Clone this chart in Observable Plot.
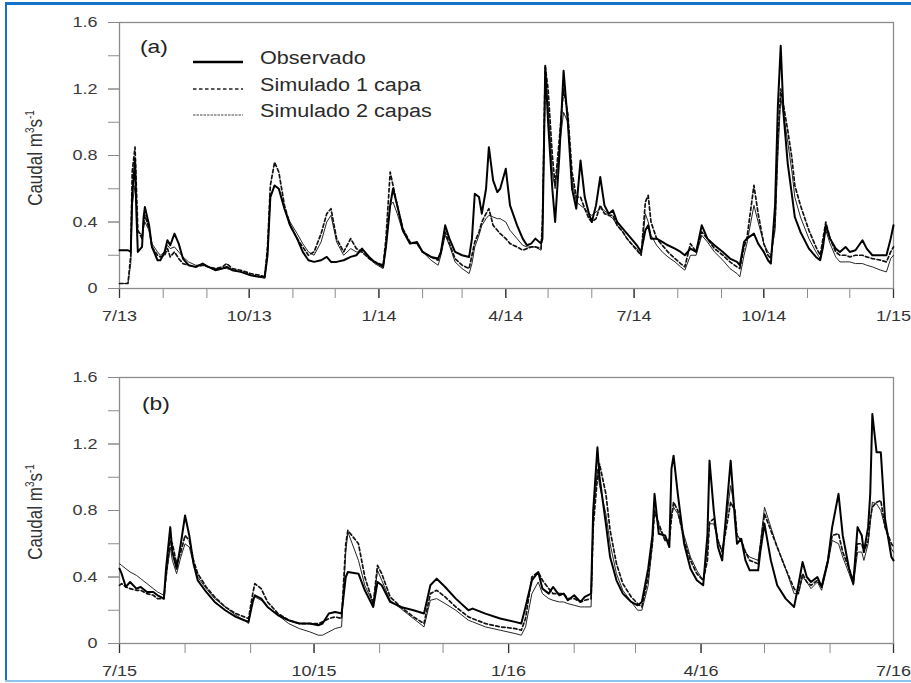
<!DOCTYPE html>
<html><head><meta charset="utf-8">
<script src="https://cdn.jsdelivr.net/npm/d3@7"></script>
<script src="https://cdn.jsdelivr.net/npm/@observablehq/plot@0.6"></script>
<style>
body{margin:0;background:#fff;}
#page{position:relative;width:911px;height:683px;overflow:hidden;font-family:"Liberation Sans",Arial,sans-serif;color:#222;}
.abs{position:absolute;}
.lbl{position:absolute;white-space:nowrap;transform-origin:0 50%;transform:scaleX(1.2);line-height:22px;}
.ylab{position:absolute;white-space:nowrap;font-size:17px;color:#333;transform:translate(-50%,-50%) scaleX(1.2) rotate(-90deg);}
.ylab sup{font-size:10px;}
</style></head><body><div id="page"></div>
<script>
// ---------- Data ----------
const seriesNames = ["Observado", "Simulado 1 capa", "Simulado 2 capas"];
// Panel (a): days since 2013-07-01
const startA = "2013-07-01", endA = "2015-01-01";
const dayA = [0,6,8,9,11,12,13,16,17,18,21,23,27,29,32,34,36,39,42,45,49,54,59,63,68,73,76,80,86,93,99,103,105,107,110,113,117,121,126,130,134,138,143,147,150,154,159,164,168,172,177,181,187,189,192,194,197,201,206,211,215,221,226,228,231,234,238,243,248,250,252,255,257,260,262,265,268,270,274,277,282,286,289,292,295,299,300,302,304,307,309,312,315,318,321,324,327,330,333,335,338,341,344,347,350,353,357,360,363,367,370,373,375,377,381,385,389,394,398,401,405,409,411,413,417,422,428,433,438,440,443,445,450,453,457,460,462,465,467,469,471,474,477,479,483,489,494,497,499,501,504,508,511,515,518,522,527,530,534,540,544,547,549];
const obsA = [0.23,0.23,0.22,0.55,0.78,0.45,0.22,0.25,0.42,0.49,0.38,0.25,0.17,0.17,0.22,0.29,0.26,0.33,0.27,0.18,0.14,0.13,0.15,0.13,0.11,0.12,0.13,0.11,0.10,0.08,0.07,0.07,0.2,0.55,0.62,0.6,0.48,0.38,0.3,0.22,0.17,0.16,0.17,0.19,0.16,0.16,0.17,0.19,0.2,0.24,0.19,0.16,0.13,0.25,0.5,0.6,0.5,0.35,0.27,0.28,0.22,0.19,0.18,0.22,0.38,0.3,0.22,0.2,0.19,0.3,0.57,0.55,0.45,0.6,0.85,0.65,0.58,0.6,0.72,0.5,0.38,0.3,0.26,0.27,0.3,0.27,0.3,1.34,1.0,0.6,0.4,0.8,1.31,1.0,0.6,0.48,0.77,0.55,0.45,0.4,0.5,0.67,0.5,0.45,0.47,0.4,0.36,0.33,0.3,0.26,0.22,0.35,0.38,0.3,0.3,0.28,0.26,0.24,0.22,0.2,0.24,0.22,0.3,0.38,0.3,0.26,0.22,0.18,0.16,0.14,0.28,0.3,0.33,0.27,0.22,0.17,0.15,0.5,1.1,1.46,1.05,0.75,0.56,0.43,0.34,0.24,0.19,0.17,0.25,0.38,0.3,0.24,0.22,0.25,0.22,0.23,0.29,0.24,0.2,0.2,0.2,0.3,0.38];
const sim1A = [0.03,0.03,0.2,0.7,0.85,0.6,0.35,0.3,0.38,0.44,0.36,0.25,0.2,0.19,0.2,0.24,0.19,0.22,0.18,0.15,0.14,0.13,0.14,0.13,0.12,0.13,0.15,0.12,0.11,0.09,0.08,0.07,0.25,0.62,0.76,0.7,0.5,0.38,0.3,0.25,0.2,0.22,0.33,0.45,0.48,0.3,0.22,0.3,0.24,0.22,0.18,0.16,0.14,0.3,0.7,0.62,0.5,0.36,0.28,0.27,0.22,0.19,0.17,0.22,0.34,0.27,0.18,0.14,0.12,0.2,0.28,0.34,0.4,0.45,0.48,0.38,0.35,0.33,0.3,0.27,0.25,0.23,0.24,0.25,0.25,0.24,0.4,1.33,1.2,0.8,0.62,0.9,1.2,1.05,0.7,0.55,0.55,0.48,0.42,0.4,0.42,0.5,0.45,0.44,0.44,0.38,0.34,0.3,0.27,0.23,0.2,0.52,0.56,0.4,0.3,0.26,0.22,0.18,0.15,0.13,0.27,0.22,0.28,0.34,0.3,0.24,0.2,0.16,0.13,0.12,0.25,0.3,0.62,0.45,0.27,0.2,0.18,0.4,0.9,1.2,1.1,0.95,0.78,0.62,0.5,0.35,0.25,0.2,0.3,0.4,0.3,0.22,0.2,0.2,0.19,0.2,0.2,0.19,0.18,0.17,0.16,0.22,0.25];
const sim2A = [0.03,0.03,0.15,0.5,0.62,0.5,0.35,0.32,0.36,0.4,0.35,0.27,0.22,0.2,0.22,0.26,0.24,0.25,0.22,0.19,0.16,0.14,0.14,0.13,0.12,0.12,0.12,0.11,0.10,0.08,0.07,0.06,0.2,0.55,0.62,0.6,0.48,0.4,0.33,0.27,0.22,0.2,0.28,0.4,0.44,0.28,0.2,0.24,0.22,0.22,0.18,0.15,0.12,0.25,0.5,0.52,0.45,0.34,0.27,0.27,0.22,0.17,0.14,0.2,0.32,0.26,0.16,0.12,0.09,0.15,0.25,0.32,0.38,0.42,0.44,0.43,0.42,0.42,0.4,0.35,0.3,0.26,0.25,0.25,0.25,0.23,0.35,1.25,1.1,0.7,0.6,0.85,1.06,1.0,0.65,0.52,0.5,0.48,0.45,0.44,0.46,0.48,0.47,0.44,0.42,0.38,0.34,0.3,0.27,0.24,0.2,0.45,0.4,0.32,0.26,0.22,0.19,0.16,0.13,0.11,0.2,0.2,0.26,0.32,0.28,0.22,0.17,0.12,0.09,0.07,0.2,0.27,0.5,0.4,0.27,0.22,0.2,0.35,0.8,1.15,1.05,0.88,0.7,0.55,0.43,0.3,0.22,0.18,0.28,0.35,0.27,0.19,0.16,0.16,0.16,0.15,0.15,0.14,0.13,0.11,0.1,0.18,0.2];
const tickDatesA = ["2013-07-01","2013-10-01","2014-01-01","2014-04-01","2014-07-01","2014-10-01","2015-01-01"];
const tickLabelsA = ["7/13","10/13","1/14","4/14","7/14","10/14","1/15"];

// Panel (b): days since 2015-07-01
const startB = "2015-07-01", endB = "2016-07-01";
const dayB = [0,1,3,5,8,10,13,16,18,21,22,24,25,27,29,31,33,35,37,41,45,50,55,59,61,63,64,67,70,75,80,85,90,94,96,99,102,105,107,108,113,116,120,122,124,128,133,139,144,147,150,154,159,165,167,173,180,187,190,192,195,198,200,203,205,208,210,212,215,218,220,223,224,226,227,230,232,235,238,242,245,247,250,252,253,255,258,260,261,262,264,267,270,273,276,278,279,281,283,285,287,289,291,292,294,296,298,302,303,305,308,311,315,319,321,323,325,327,330,332,335,337,340,342,345,347,349,351,352,354,355,356,358,360,362,365,366];
const obsB = [0.45,0.42,0.34,0.37,0.33,0.34,0.31,0.31,0.29,0.27,0.45,0.7,0.55,0.45,0.6,0.77,0.65,0.48,0.38,0.31,0.25,0.2,0.16,0.14,0.13,0.25,0.29,0.27,0.22,0.17,0.14,0.12,0.12,0.11,0.12,0.18,0.19,0.18,0.4,0.43,0.42,0.32,0.22,0.37,0.35,0.25,0.22,0.2,0.18,0.35,0.39,0.34,0.27,0.2,0.21,0.18,0.15,0.13,0.12,0.22,0.38,0.43,0.33,0.3,0.34,0.29,0.3,0.26,0.29,0.25,0.28,0.3,0.8,1.18,1.0,0.72,0.52,0.38,0.3,0.25,0.23,0.25,0.45,0.65,0.9,0.66,0.65,0.58,1.05,1.13,0.9,0.6,0.45,0.38,0.35,0.65,1.1,0.8,0.58,0.5,0.8,1.1,0.75,0.6,0.63,0.5,0.44,0.44,0.55,0.72,0.5,0.35,0.27,0.22,0.35,0.49,0.4,0.37,0.4,0.34,0.5,0.7,0.9,0.65,0.45,0.36,0.7,0.65,0.55,0.7,0.9,1.38,1.15,1.15,0.75,0.52,0.5];
const sim1B = [0.35,0.36,0.34,0.33,0.32,0.32,0.3,0.29,0.27,0.27,0.4,0.62,0.6,0.48,0.55,0.65,0.62,0.5,0.42,0.34,0.28,0.22,0.18,0.16,0.15,0.3,0.36,0.33,0.25,0.18,0.14,0.12,0.12,0.12,0.13,0.15,0.16,0.15,0.6,0.68,0.6,0.4,0.24,0.47,0.42,0.28,0.22,0.16,0.12,0.3,0.32,0.28,0.22,0.16,0.15,0.12,0.1,0.09,0.08,0.15,0.4,0.43,0.38,0.33,0.3,0.3,0.3,0.27,0.27,0.25,0.26,0.27,0.7,1.0,1.08,0.9,0.68,0.48,0.36,0.28,0.24,0.22,0.4,0.6,0.8,0.72,0.62,0.62,0.75,0.85,0.8,0.62,0.5,0.42,0.38,0.5,0.73,0.75,0.62,0.55,0.7,0.85,0.8,0.65,0.62,0.55,0.5,0.48,0.58,0.78,0.68,0.58,0.45,0.33,0.3,0.42,0.37,0.35,0.38,0.34,0.5,0.65,0.66,0.55,0.45,0.38,0.6,0.6,0.55,0.62,0.75,0.82,0.85,0.86,0.7,0.6,0.58];
const sim2B = [0.48,0.47,0.45,0.43,0.41,0.39,0.36,0.33,0.31,0.29,0.4,0.58,0.5,0.42,0.52,0.6,0.58,0.48,0.4,0.33,0.27,0.22,0.17,0.14,0.12,0.27,0.28,0.26,0.22,0.17,0.12,0.09,0.07,0.05,0.05,0.07,0.09,0.1,0.55,0.67,0.5,0.35,0.24,0.44,0.38,0.26,0.21,0.15,0.1,0.26,0.27,0.24,0.2,0.14,0.13,0.1,0.08,0.06,0.05,0.1,0.3,0.37,0.3,0.27,0.26,0.25,0.25,0.24,0.23,0.22,0.22,0.22,0.75,1.05,0.95,0.78,0.6,0.42,0.32,0.25,0.2,0.2,0.35,0.6,0.8,0.7,0.62,0.62,0.78,0.82,0.78,0.65,0.52,0.44,0.38,0.55,0.72,0.72,0.62,0.55,0.75,0.95,0.8,0.65,0.62,0.55,0.52,0.5,0.6,0.82,0.7,0.58,0.45,0.3,0.3,0.4,0.37,0.33,0.37,0.32,0.48,0.62,0.6,0.52,0.42,0.35,0.55,0.55,0.5,0.6,0.72,0.85,0.84,0.8,0.7,0.57,0.55];
const tickDatesB = ["2015-07-01","2015-10-01","2016-01-01","2016-04-01","2016-07-01"];
const tickLabelsB = ["7/15","10/15","1/16","4/16","7/16"];

const yMinorTicks = [0,0.2,0.4,0.6,0.8,1.0,1.2,1.4,1.6];
const yMajorTicks = [0,0.4,0.8,1.2,1.6];
const yTickLabels = ["0","0.4","0.8","1.2","1.6"];

// ---------- Drawing ----------
function panel({start, end, days, obs, s1, s2, tickDates, tickLabels, height, marginTop}) {
  const t0 = new Date(start + "T00:00:00Z");
  const t1 = new Date(end + "T00:00:00Z");
  const rows = days.map((d, i) => ({date: d3.utcDay.offset(t0, d), obs: obs[i], s1: s1[i], s2: s2[i]}));
  const months = d3.utcMonth.range(t0, d3.utcDay.offset(t1, 1));
  const major = tickDates.map(s => new Date(s + "T00:00:00Z"));
  const xLab = new Map(major.map((d, i) => [+d, tickLabels[i]]));
  const yLab = new Map(yMajorTicks.map((v, i) => [v, yTickLabels[i]]));
  const svg = Plot.plot({
    width: 911, height, marginTop, marginBottom: height - marginTop - 266, marginLeft: 119, marginRight: 18,
    style: {fontFamily: "'Liberation Sans', Arial, sans-serif", fontSize: "15px", color: "#333", background: "transparent", overflow: "visible"},
    x: {type: "utc", domain: [t0, t1], label: null},
    y: {domain: [0, 1.6], label: null},
    marks: [
      Plot.axisY(yMinorTicks, {tickSize: 11, tickFormat: () => "", stroke: "#8c8c8c", label: null}),
      Plot.axisY(yMajorTicks, {tickSize: 11, tickPadding: 11, tickFormat: v => yLab.get(v), stroke: "#8c8c8c", fill: "#3a3a3a", label: null}),
      Plot.axisX(months, {tickSize: 10, tickFormat: () => "", stroke: "#8c8c8c", label: null}),
      Plot.axisX(major, {tickSize: 10, tickPadding: 12, tickFormat: d => xLab.get(+d), stroke: "#333", strokeWidth: 1.3, fill: "#333", label: null}),
      Plot.frame({stroke: "#8c8c8c", strokeWidth: 1.3}),
      Plot.lineY(rows, {x: "date", y: "s2", stroke: "#262626", strokeWidth: 1}),
      Plot.lineY(rows, {x: "date", y: "s1", stroke: "#111", strokeWidth: 1.7, strokeDasharray: "3.5,2.5"}),
      Plot.lineY(rows, {x: "date", y: "obs", stroke: "#000", strokeWidth: 2})
    ]
  });
  // the original figure's lettering is horizontally stretched
  svg.querySelectorAll("text").forEach(t => t.setAttribute("transform", (t.getAttribute("transform") || "") + " scale(1.2,1)"));
  return svg;
}

const page = document.getElementById("page");
function add(el, css) { Object.assign(el.style, css); page.appendChild(el); return el; }
function div(cls, css, html) { const d = document.createElement("div"); d.className = cls; if (html) d.innerHTML = html; return add(d, css); }

// blue frame of the picture
div("abs", {left: "5px", top: "2px", width: "906px", height: "3px", background: "#1272cc"});
div("abs", {left: "5px", top: "2px", width: "2px", height: "680px", background: "#1272cc"});
div("abs", {left: "5px", top: "680px", width: "906px", height: "2px", background: "#8cc4ee"});

const pa = panel({start: startA, end: endA, days: dayA, obs: obsA, s1: sim1A, s2: sim2A, tickDates: tickDatesA, tickLabels: tickLabelsA, height: 328, marginTop: 22});
const wa = div("abs", {left: "0px", top: "0px"}); wa.appendChild(pa);
const pb = panel({start: startB, end: endB, days: dayB, obs: obsB, s1: sim1B, s2: sim2B, tickDates: tickDatesB, tickLabels: tickLabelsB, height: 355, marginTop: 49});
const wb = div("abs", {left: "0px", top: "328px"}); wb.appendChild(pb);

// y labels
div("ylab", {left: "36px", top: "158px"}, "Caudal m<sup>3</sup>s<sup>-1</sup>");
div("ylab", {left: "36px", top: "512px"}, "Caudal m<sup>3</sup>s<sup>-1</sup>");

// panel letters
div("lbl", {left: "140px", top: "36px", fontSize: "19px"}, "(a)");
div("lbl", {left: "142px", top: "393px", fontSize: "19px"}, "(b)");

// legend
const legendStyles = [
  {w: 2.4, dash: "none", c: "#000"},
  {w: 1.5, dash: "3.5,2.5", c: "#222"},
  {w: 1, dash: "2.5,1", c: "#444"}
];
const legendY = [58, 84.5, 111];
seriesNames.forEach((name, i) => {
  const s = legendStyles[i];
  div("abs", {left: "193px", top: (legendY[i] - 5) + "px", width: "50px", height: "10px"},
    `<svg width="50" height="10"><line x1="0" y1="5" x2="50" y2="5" stroke="${s.c}" stroke-width="${s.w}" stroke-dasharray="${s.dash}"/></svg>`);
  div("lbl", {left: "260px", top: (legendY[i] - 11) + "px", fontSize: "18px", color: "#2a2a2a"}, name);
});
</script>
</body></html>
